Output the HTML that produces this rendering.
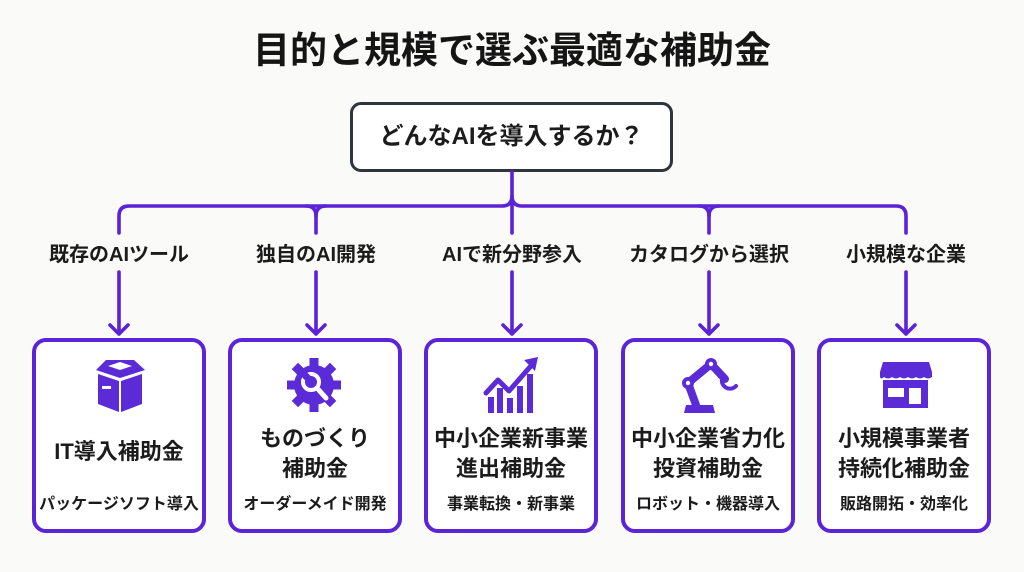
<!DOCTYPE html>
<html><head><meta charset="utf-8">
<style>
*{margin:0;padding:0;box-sizing:border-box}
html,body{width:1024px;height:572px;overflow:hidden;background:#fafaf9}
body{position:relative;font-family:"Liberation Sans","Noto Sans CJK JP",sans-serif;font-weight:bold;color:#1b1b1b}
.abs{position:absolute}
.title{left:0;width:1024px;top:31px;height:40px;line-height:40px;text-align:center;font-size:37px;color:#151515}
.q{left:350px;top:102px;width:323px;height:70px;border:3.5px solid #2e363b;border-radius:11px;background:#fff;text-align:center;line-height:63px;font-size:24px}
.lbl{width:200px;height:24px;line-height:24px;top:243px;text-align:center;font-size:20px}
.box{top:338px;width:174px;height:195px;border:4px solid #5b24d6;border-radius:14px;background:#fff}
.t{width:174px;text-align:center;font-size:22px;line-height:30px}
.s{width:174px;top:493px;height:24px;line-height:24px;text-align:center;font-size:16px}
</style></head><body>
<div class="abs title">目的と規模で選ぶ最適な補助金</div>
<div class="abs q">どんなAIを導入するか？</div>

<svg class="abs" style="left:0;top:0" width="1024" height="572" viewBox="0 0 1024 572">
<g fill="none" stroke="#5b22d6" stroke-width="3.6" stroke-linecap="round" stroke-linejoin="round">
<path d="M512 172 V196 Q512 206 502 206 H129 Q119 206 119 216 V233"/>
<path d="M512 196 Q512 206 522 206 H896 Q906 206 906 216 V233"/>
<path d="M512 200 V233"/>
<path d="M306 206 Q316 206 316 216 V233"/>
<path d="M326 206 Q316 206 316 216"/>
<path d="M699 206 Q709 206 709 216 V233"/>
<path d="M719 206 Q709 206 709 216"/>
<path d="M119 272 V334 M110 325 L119 334 L128 325"/>
<path d="M316 272 V334 M307 325 L316 334 L325 325"/>
<path d="M512 272 V334 M503 325 L512 334 L521 325"/>
<path d="M709 272 V334 M700 325 L709 334 L718 325"/>
<path d="M906 272 V334 M897 325 L906 334 L915 325"/>
</g>
</svg>

<div class="abs lbl" style="left:19px">既存のAIツール</div>
<div class="abs lbl" style="left:216px">独自のAI開発</div>
<div class="abs lbl" style="left:412px">AIで新分野参入</div>
<div class="abs lbl" style="left:609px">カタログから選択</div>
<div class="abs lbl" style="left:806px">小規模な企業</div>

<div class="abs box" style="left:32px"></div>
<div class="abs box" style="left:228px"></div>
<div class="abs box" style="left:424px"></div>
<div class="abs box" style="left:621px"></div>
<div class="abs box" style="left:817px"></div>

<svg class="abs" style="left:0;top:0" width="1024" height="572" viewBox="0 0 1024 572">
<g fill="#5b2bd8">
<!-- box icon -->
<polygon points="96,370 106,360 134,360 145,370 120,378"/>
<polygon points="98,374 119,381 119,412 98,404"/>
<polygon points="121,381 142,374 142,404 121,412"/>
<polygon points="108,366 120,362 132,366 120,370" fill="#fff"/>
<rect x="102" y="386" width="9" height="3" fill="#fff"/>
<!-- gear -->
<g transform="translate(314,385)">
<circle r="20"/>
<rect x="-4.5" y="-27" width="9" height="12"/>
<rect x="-4.5" y="-27" width="9" height="12" transform="rotate(45)"/>
<rect x="-4.5" y="-27" width="9" height="12" transform="rotate(90)"/>
<rect x="-4.5" y="-27" width="9" height="12" transform="rotate(135)"/>
<rect x="-4.5" y="-27" width="9" height="12" transform="rotate(180)"/>
<rect x="-4.5" y="-27" width="9" height="12" transform="rotate(225)"/>
<rect x="-4.5" y="-27" width="9" height="12" transform="rotate(270)"/>
<rect x="-4.5" y="-27" width="9" height="12" transform="rotate(315)"/>
<circle cx="-3" cy="-3" r="8" fill="none" stroke="#fff" stroke-width="4"/>
<line x1="3" y1="3" x2="12" y2="13" stroke="#fff" stroke-width="5" stroke-linecap="round"/>
<rect x="-12" y="-12" width="7" height="7" fill="#5b2bd8" transform="rotate(45 -8 -8)"/>
</g>
<!-- chart -->
<rect x="488" y="397" width="6" height="16"/>
<rect x="497" y="388" width="6" height="25"/>
<rect x="507" y="398" width="6" height="15"/>
<rect x="517" y="386" width="6" height="27"/>
<rect x="527" y="374" width="6" height="39"/>
<polyline points="486,393 498,380 509,391 530,367" fill="none" stroke="#5b2bd8" stroke-width="5" stroke-linejoin="round" stroke-linecap="round"/>
<polygon points="538,357 524,360 535,371"/>
<!-- robot -->
<path d="M684 413 L686 405 L713 405 L715 413 Z"/>
<g fill="none" stroke="#5b2bd8" stroke-width="8" stroke-linecap="round">
<line x1="696" y1="405" x2="688" y2="383"/>
<line x1="688" y1="383" x2="711" y2="364"/>
<line x1="711" y1="364" x2="725" y2="379"/>
</g>
<path d="M724 375 A7 7 0 1 0 736 386" fill="none" stroke="#5b2bd8" stroke-width="4" stroke-linecap="round"/>
<circle cx="688" cy="383" r="6"/><circle cx="688" cy="383" r="2.2" fill="#fff"/>
<circle cx="711" cy="364" r="6"/><circle cx="711" cy="364" r="2.2" fill="#fff"/>
<!-- store -->
<path d="M883 362 H929 L932 372 V377 Q928 380 924 377 Q920 380 916 377 Q912 380 908 377 Q904 380 900 377 Q896 380 892 377 Q888 380 884 377 Q881 380 880 377 V372 Z"/>
<rect x="883" y="380" width="45" height="28"/>
<rect x="888" y="388" width="16" height="9" fill="#fff"/>
<rect x="909" y="388" width="12" height="16" fill="#fff"/>
</g>
</svg>

<div class="abs t" style="left:32px;top:437px">IT導入補助金</div>
<div class="abs t" style="left:228px;top:424px">ものづくり<br>補助金</div>
<div class="abs t" style="left:424px;top:424px">中小企業新事業<br>進出補助金</div>
<div class="abs t" style="left:621px;top:424px">中小企業省力化<br>投資補助金</div>
<div class="abs t" style="left:817px;top:424px">小規模事業者<br>持続化補助金</div>

<div class="abs s" style="left:32px">パッケージソフト導入</div>
<div class="abs s" style="left:228px">オーダーメイド開発</div>
<div class="abs s" style="left:424px">事業転換・新事業</div>
<div class="abs s" style="left:621px">ロボット・機器導入</div>
<div class="abs s" style="left:817px">販路開拓・効率化</div>
</body></html>
